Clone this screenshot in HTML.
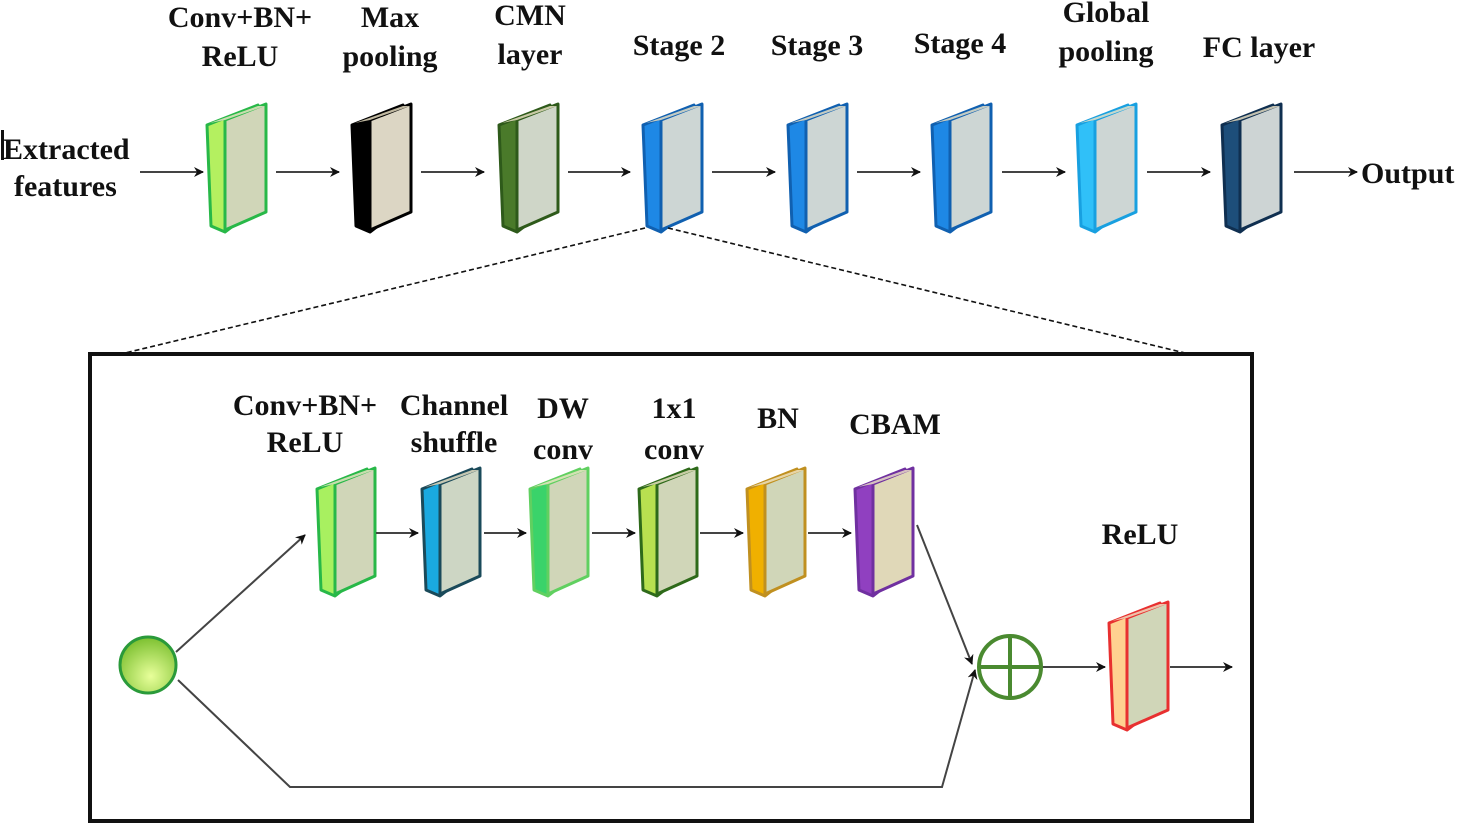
<!DOCTYPE html>
<html><head><meta charset="utf-8"><style>
body{margin:0;background:#fff;width:1460px;height:825px;overflow:hidden}
text{font-family:"Liberation Serif",serif;font-weight:bold;font-size:30px;fill:#111}
</style></head><body>
<svg id="s" width="1460" height="825" xmlns="http://www.w3.org/2000/svg">
<defs>
<marker id="a" markerWidth="10" markerHeight="10" refX="9" refY="5" orient="auto" markerUnits="userSpaceOnUse"><path d="M0,0 L10,5 L0,10 L3,5z" fill="#111"/></marker>
<radialGradient id="ball" cx="0.55" cy="0.7" r="0.7"><stop offset="0" stop-color="#e8ff9a"/><stop offset="1" stop-color="#7cc030"/></radialGradient>
</defs>
<g id="blocks"></g>
<g stroke="#444" stroke-width="2" fill="none" marker-end="url(#a)">
<line x1="140" y1="172" x2="203" y2="172"/>
<line x1="276" y1="172" x2="339" y2="172"/>
<line x1="421" y1="172" x2="484" y2="172"/>
<line x1="568" y1="172" x2="630" y2="172"/>
<line x1="712" y1="172" x2="775" y2="172"/>
<line x1="857" y1="172" x2="920" y2="172"/>
<line x1="1002" y1="172" x2="1065" y2="172"/>
<line x1="1147" y1="172" x2="1210" y2="172"/>
<line x1="1294" y1="172" x2="1357" y2="172"/>
<line x1="376" y1="533" x2="418" y2="533"/>
<line x1="484" y1="533" x2="526" y2="533"/>
<line x1="592" y1="533" x2="635" y2="533"/>
<line x1="700" y1="533" x2="743" y2="533"/>
<line x1="808" y1="533" x2="851" y2="533"/>
<line x1="176" y1="652" x2="305" y2="535"/>
<polyline points="178,680 290,787 942,787 975,670"/>
<line x1="917" y1="525" x2="972" y2="664"/>
<line x1="1042" y1="667" x2="1105" y2="667"/>
<line x1="1170" y1="667" x2="1232" y2="667"/>
</g>
<g stroke="#111" stroke-width="1.6" stroke-dasharray="5,3" fill="none">
<line x1="645" y1="228" x2="125" y2="353"/>
<line x1="668" y1="228" x2="1185" y2="353"/>
</g>
<rect x="90" y="354" width="1162" height="467" fill="none" stroke="#111" stroke-width="4"/>
<circle cx="148" cy="665" r="28" fill="url(#ball)" stroke="#2a9a3a" stroke-width="3"/>
<circle cx="1010" cy="667" r="31" fill="#fff" stroke="#4a8a30" stroke-width="4"/>
<line x1="979" y1="667" x2="1041" y2="667" stroke="#4a8a30" stroke-width="4"/>
<line x1="1010" y1="636" x2="1010" y2="698" stroke="#4a8a30" stroke-width="4"/>
<rect x="1" y="130" width="3" height="30" fill="#111"/>
<text x="3" y="159">Extracted</text><text x="14" y="196">features</text>
<text x="240" y="27" text-anchor="middle">Conv+BN+</text><text x="240" y="66" text-anchor="middle">ReLU</text>
<text x="390" y="27" text-anchor="middle">Max</text><text x="390" y="66" text-anchor="middle">pooling</text>
<text x="530" y="25" text-anchor="middle">CMN</text><text x="530" y="64" text-anchor="middle">layer</text>
<text x="679" y="55" text-anchor="middle">Stage 2</text>
<text x="817" y="55" text-anchor="middle">Stage 3</text>
<text x="960" y="53" text-anchor="middle">Stage 4</text>
<text x="1106" y="22" text-anchor="middle">Global</text><text x="1106" y="61" text-anchor="middle">pooling</text>
<text x="1259" y="57" text-anchor="middle">FC layer</text>
<text x="1361" y="183">Output</text>
<text x="305" y="415" text-anchor="middle">Conv+BN+</text><text x="305" y="452" text-anchor="middle">ReLU</text>
<text x="454" y="415" text-anchor="middle">Channel</text><text x="454" y="452" text-anchor="middle">shuffle</text>
<text x="563" y="418" text-anchor="middle">DW</text><text x="563" y="459" text-anchor="middle">conv</text>
<text x="674" y="418" text-anchor="middle">1x1</text><text x="674" y="459" text-anchor="middle">conv</text>
<text x="778" y="428" text-anchor="middle">BN</text>
<text x="895" y="434" text-anchor="middle">CBAM</text>
<text x="1140" y="544" text-anchor="middle">ReLU</text>
</svg>
<script>
(function(){
var g=document.getElementById('blocks'),NS='http://www.w3.org/2000/svg';
function blk(x,y,w,h,side,border,face){
 var sp=document.createElementNS(NS,'path');
 sp.setAttribute('d','M'+(x+2)+','+(y+22)+' L'+(x+w-10)+','+(y+2)+' L'+(x+w-10)+','+(y+h-25)+' L'+(x+20)+','+(y+h)+' L'+(x+6)+','+(y+h-6)+' Z');
 sp.setAttribute('fill',side);sp.setAttribute('stroke',border);sp.setAttribute('stroke-width','3');sp.setAttribute('stroke-linejoin','round');
 g.appendChild(sp);
 var fp=document.createElementNS(NS,'path');
 fp.setAttribute('d','M'+(x+20)+','+(y+17)+' L'+(x+w-2)+','+(y+1)+' L'+(x+w-2)+','+(y+h-20)+' L'+(x+20)+','+(y+h-2)+' Z');
 fp.setAttribute('fill',face);fp.setAttribute('stroke',border);fp.setAttribute('stroke-width','3');fp.setAttribute('stroke-linejoin','round');
 g.appendChild(fp);
 var tp=document.createElementNS(NS,'path');
 tp.setAttribute('d','M'+(x+5)+','+(y+20)+' L'+(x+w-10)+','+(y+3)+' L'+(x+w-3)+','+(y+3)+' L'+(x+20)+','+(y+17)+' Z');
 tp.setAttribute('fill','#f0e6c8');tp.setAttribute('opacity','0.8');
 g.appendChild(tp);
}
var topRow=[[205,'#b4f060','#28b848','#d0d6b8'],[350,'#000','#000','#dcd6c4'],[497,'#4a7a2a','#2e5a1a','#cfd6c8'],[641,'#1e88e5','#1060b0','#cdd6d4'],[786,'#1e88e5','#1060b0','#cdd6d4'],[930,'#1e88e5','#1060b0','#cdd6d4'],[1075,'#30c0f8','#18a0e0','#cdd6d4'],[1220,'#1d4e7a','#0f2f50','#cdd4d4']];
topRow.forEach(function(b){blk(b[0],103,63,129,b[1],b[2],b[3]);});
var bot=[[315,'#a8f060','#28b848','#d0d6b8'],[420,'#1aa9e0','#1a4a5a','#cdd6c4'],[528,'#3ad36a','#60d060','#d0d6b8'],[637,'#b8e050','#2e6a1a','#d0d6b8'],[745,'#f0b000','#c09020','#d0d6b8'],[853,'#9040c0','#7030a0','#e0d8b8']];
bot.forEach(function(b){blk(b[0],467,62,129,b[1],b[2],b[3]);});
blk(1107,601,63,129,'#ffd090','#e83030','#d0d6b8');
})();
</script>
</body></html>
